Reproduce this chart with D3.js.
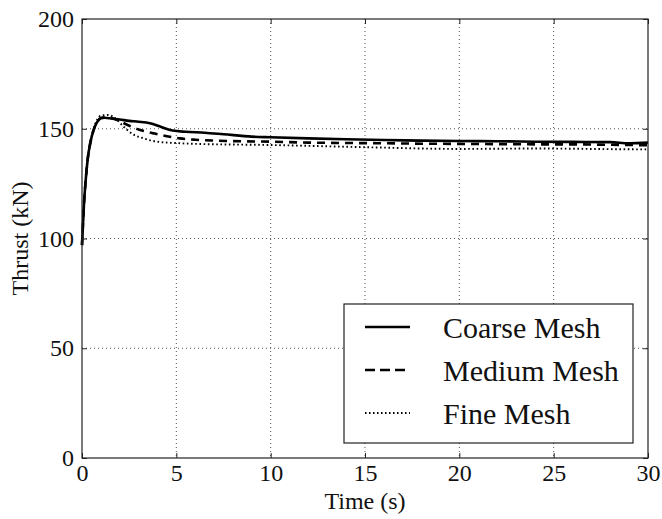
<!DOCTYPE html>
<html>
<head>
<meta charset="utf-8">
<script src="https://cdn.jsdelivr.net/npm/d3@7"></script>
<style>
  body { margin: 0; background: #fff; }
  text { font-family: "Liberation Serif", "DejaVu Serif", serif; fill: #111; }
</style>
</head>
<body>
<svg id="chart" width="662" height="519"></svg>
<script>
// Thrust history for three mesh resolutions
const timeCoarse = [0, 0.1, 0.2, 0.3, 0.45, 0.6, 0.8, 1.0, 1.2, 1.6, 2.0, 2.5, 3.0, 3.6, 4.2, 4.8, 5.5, 6.5, 7.5, 9.0, 10, 12, 14, 16, 18, 20, 22, 24, 26, 28, 29, 30];
const thrustCoarse = [97, 115, 127, 136, 144, 149, 153, 154.8, 155, 154.6, 154.2, 153.6, 153.2, 152.5, 150.8, 149.2, 148.6, 148.2, 147.5, 146.4, 146.1, 145.6, 145.2, 144.9, 144.6, 144.4, 144.3, 144.1, 144.0, 143.9, 143.4, 143.7];

const timeMedium = [0, 0.1, 0.2, 0.3, 0.45, 0.6, 0.8, 1.0, 1.3, 1.7, 2.2, 2.6, 3.0, 3.4, 3.8, 4.5, 5.2, 6.0, 7.0, 8.5, 10, 12, 14, 16, 18, 20, 22, 24, 26, 28, 30];
const thrustMedium = [97, 115, 127, 136, 144, 149, 153, 154.9, 155.3, 154.6, 152.6, 151.0, 149.7, 148.7, 147.9, 146.6, 145.6, 145.0, 144.6, 144.3, 144.1, 143.7, 143.5, 143.4, 143.2, 143.1, 143.0, 142.9, 142.9, 142.7, 142.5];

const timeFine = [0, 0.1, 0.2, 0.3, 0.45, 0.6, 0.8, 1.0, 1.4, 1.8, 2.2, 2.7, 3.2, 4.0, 5.2, 6.5, 8.0, 10, 12, 14, 16, 18, 20, 22, 24, 26, 28, 30];
const thrustFine = [97, 115, 127, 136, 144, 149.5, 154, 156, 156.3, 154.5, 151, 147.5, 145.8, 144.1, 143.4, 143.0, 142.8, 142.6, 142.2, 141.8, 141.4, 141.0, 140.8, 140.9, 141.0, 140.9, 140.7, 140.6];

const seriesNames = ["Coarse Mesh", "Medium Mesh", "Fine Mesh"];
const xTicks = [0, 5, 10, 15, 20, 25, 30];
const yTicks = [0, 50, 100, 150, 200];

const svg = d3.select("#chart");
const plotLeft = 82, plotRight = 648, plotTop = 19, plotBottom = 458;

const x = d3.scaleLinear().domain([0, 30]).range([plotLeft, plotRight]);
const y = d3.scaleLinear().domain([0, 200]).range([plotBottom, plotTop]);

// Grid
const grid = svg.append("g").attr("stroke", "#555").attr("stroke-width", 1).attr("stroke-dasharray", "1,3");
xTicks.slice(1, -1).forEach(t => grid.append("line").attr("x1", x(t)).attr("x2", x(t)).attr("y1", plotTop).attr("y2", plotBottom));
yTicks.slice(1, -1).forEach(t => grid.append("line").attr("x1", plotLeft).attr("x2", plotRight).attr("y1", y(t)).attr("y2", y(t)));

// Curves
const line = d3.line().x(d => x(d[0])).y(d => y(d[1])).curve(d3.curveMonotoneX);
const zip = (a, b) => a.map((v, i) => [v, b[i]]);
const styles = [
  { data: zip(timeCoarse, thrustCoarse), width: 2.6, dash: null, legendDash: null },
  { data: zip(timeMedium, thrustMedium), width: 2.6, dash: "8,6", legendDash: "10,5" },
  { data: zip(timeFine, thrustFine), width: 1.9, dash: "1.6,2.6", legendDash: "1.5,2.5" }
];
const plot = svg.append("g");
styles.slice().reverse().forEach(s => {
  plot.append("path").datum(s.data).attr("d", line)
    .attr("fill", "none").attr("stroke", "#000")
    .attr("stroke-width", s.width)
    .attr("stroke-dasharray", s.dash);
});

// Frame
svg.append("rect").attr("x", plotLeft).attr("y", plotTop).attr("width", plotRight - plotLeft).attr("height", plotBottom - plotTop)
  .attr("fill", "none").attr("stroke", "#222").attr("stroke-width", 1.2);

// Axes with inward ticks
const xAxis = svg.append("g").attr("transform", `translate(0,${plotBottom})`)
  .call(d3.axisBottom(x).tickValues(xTicks).tickSize(-5).tickPadding(6).tickFormat(d3.format("d")));
const xAxisTop = svg.append("g").attr("transform", `translate(0,${plotTop})`)
  .call(d3.axisTop(x).tickValues(xTicks).tickSize(-5).tickFormat(""));
const yAxis = svg.append("g").attr("transform", `translate(${plotLeft},0)`)
  .call(d3.axisLeft(y).tickValues(yTicks).tickSize(-5).tickPadding(8).tickFormat(d3.format("d")));
const yAxisRight = svg.append("g").attr("transform", `translate(${plotRight},0)`)
  .call(d3.axisRight(y).tickValues(yTicks).tickSize(-5).tickFormat(""));
[xAxis, xAxisTop, yAxis, yAxisRight].forEach(g => {
  g.select(".domain").remove();
  g.selectAll(".tick line").attr("stroke", "#222");
  g.selectAll("text").attr("font-size", 24).attr("font-family", "Liberation Serif").attr("fill", "#111");
});

// Axis titles
svg.append("text").attr("x", (plotLeft + plotRight) / 2).attr("y", 509).attr("text-anchor", "middle")
  .attr("font-size", 24).text("Time (s)");
svg.append("text").attr("transform", `translate(28,${(plotTop + plotBottom) / 2}) rotate(-90)`)
  .attr("text-anchor", "middle").attr("font-size", 24).text("Thrust (kN)");

// Legend
const legend = svg.append("g");
legend.append("rect").attr("x", 344).attr("y", 304).attr("width", 289).attr("height", 139)
  .attr("fill", "#fff").attr("stroke", "#222").attr("stroke-width", 1.2);
seriesNames.forEach((name, i) => {
  const ly = 327 + i * 43;
  legend.append("line").attr("x1", 365).attr("x2", 410).attr("y1", ly).attr("y2", ly)
    .attr("stroke", "#000").attr("stroke-width", styles[i].width).attr("stroke-dasharray", styles[i].legendDash);
  legend.append("text").attr("x", 443).attr("y", ly + 11).attr("font-size", 30).text(name);
});
</script>
</body>
</html>
